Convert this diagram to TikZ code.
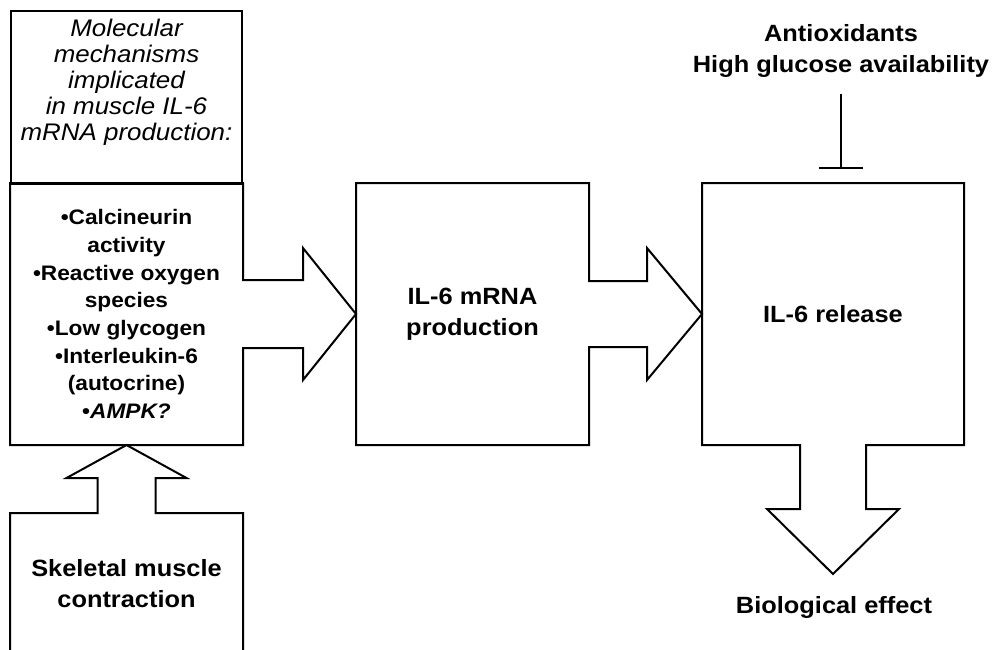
\documentclass[tikz,border=0pt]{standalone}
\usepackage{fontspec}
\setmainfont{Liberation Sans}[FakeStretch=1.08]
\usetikzlibrary{arrows.meta}

\begin{document}
\begin{tikzpicture}[x=1pt,y=-1pt,line width=2pt,line join=miter,
  area/.style={minimum width=231pt,minimum height=260pt,inner sep=0pt},
  box/.style={area,draw},
  big text/.style={font=\fontsize{23.5}{31}\selectfont\bfseries,align=center},
  item text/.style={font=\fontsize{21}{27.7}\selectfont\bfseries,align=center},
  note text/.style={font=\fontsize{24}{26}\selectfont\itshape,align=center},
  inhibit/.style={-{Bar[width=44pt]},shorten <=12pt,shorten >=14pt}]

  \clip (0,0) rectangle (995,649);

  % heading box and the three main blocks
  \node[box,minimum height=173pt] (head) at (126.5,97.5) {};
  \node[note text] (headtxt) at (126.5,82.5) {Molecular\\mechanisms\\implicated\\in muscle IL-6\\mRNA production:};
  \node[area,item text] (mech) at (126.5,314) {•Calcineurin\\activity\\•Reactive oxygen\\species\\•Low glycogen\\•Interleukin-6\\(autocrine)\\•\textit{AMPK?}};
  \node[area,big text] (mrna) at (472.5,314) {IL-6 mRNA\\production};
  \node[area,big text,minimum width=260pt] (release) at (833,314) {IL-6 release};
  \node[area,big text,minimum height=140pt] (muscle) at (126.5,584) {Skeletal muscle\\contraction};
  \node[big text] (effect) at (834,607) {Biological effect};
  \node[big text] (inhib) at (841,51) {Antioxidants\\High glucose availability};
  \coordinate (tip) at ([yshift=-129pt]release.south);

  % block arrows, drawn with their boxes
  \draw (mech.north west) -- (mech.north east) -- ([yshift=34pt]mech.east)
    -- ([xshift=60pt,yshift=34pt]mech.east) -- ([xshift=60pt,yshift=66pt]mech.east)
    -- (mrna.west) -- ([xshift=60pt,yshift=-66pt]mech.east)
    -- ([xshift=60pt,yshift=-34pt]mech.east) -- ([yshift=-34pt]mech.east)
    -- (mech.south east) -- (mech.south west) -- cycle;
  \draw (mrna.north west) -- (mrna.north east) -- ([yshift=33pt]mrna.east)
    -- ([xshift=58pt,yshift=33pt]mrna.east) -- ([xshift=58pt,yshift=66pt]mrna.east)
    -- (release.west) -- ([xshift=58pt,yshift=-66pt]mrna.east)
    -- ([xshift=58pt,yshift=-33pt]mrna.east) -- ([yshift=-33pt]mrna.east)
    -- (mrna.south east) -- (mrna.south west) -- cycle;
  \draw (release.south west) -- (release.north west) -- (release.north east)
    -- (release.south east) -- ([xshift=33pt]release.south)
    -- ([xshift=33pt,yshift=-64pt]release.south) -- ([xshift=66pt,yshift=-64pt]release.south)
    -- (tip) -- ([xshift=-66pt,yshift=-64pt]release.south)
    -- ([xshift=-33pt,yshift=-64pt]release.south) -- ([xshift=-33pt]release.south) -- cycle;
  \draw (muscle.south west) -- (muscle.north west) -- ([xshift=-29pt]muscle.north)
    -- ([xshift=-29pt,yshift=35pt]muscle.north) -- ([xshift=-60pt,yshift=35pt]muscle.north)
    -- (mech.south) -- ([xshift=60pt,yshift=35pt]muscle.north)
    -- ([xshift=29pt,yshift=35pt]muscle.north) -- ([xshift=29pt]muscle.north)
    -- (muscle.north east) -- (muscle.south east);

  % inhibition
  \draw[inhibit] (inhib.south) -- (inhib.south |- release.north);
\end{tikzpicture}
\end{document}
